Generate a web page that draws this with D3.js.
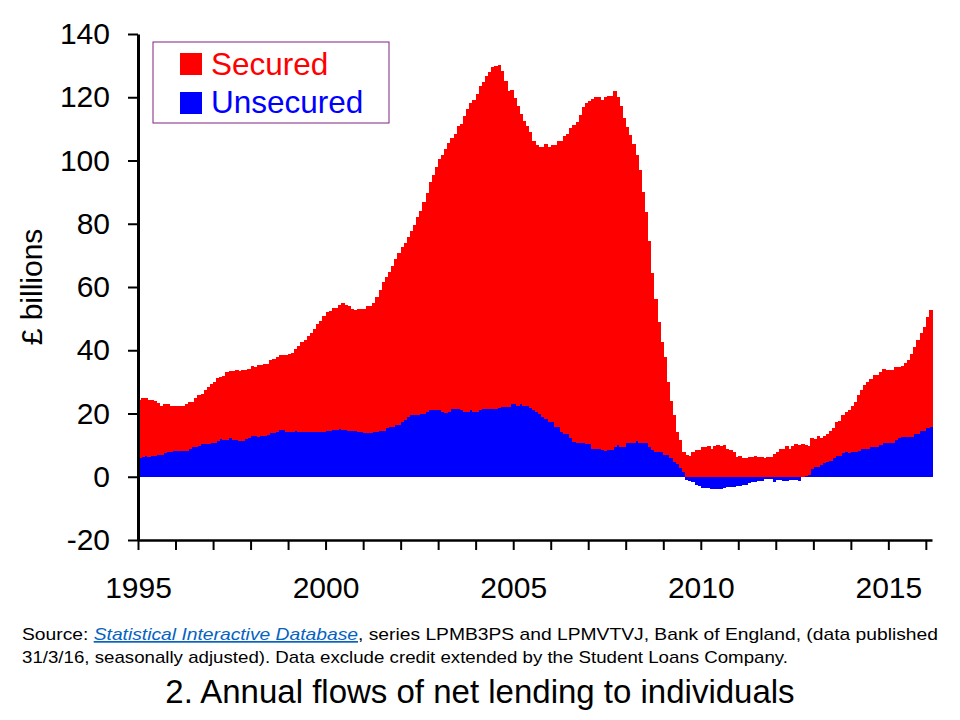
<!DOCTYPE html>
<html>
<head>
<meta charset="utf-8">
<script src="https://cdn.jsdelivr.net/npm/d3@7"></script>
<style>
    body { margin: 0; background: #fff; }
    svg { display: block; font-family: Arial, "Liberation Sans", sans-serif; }
</style>
</head>
<body>
<svg id="chart" width="960" height="720"></svg>
<script>

// Months covered by the series (Jan 1995 .. Feb 2016)
const firstMonth = new Date(1995, 0, 1);
const endMonth = new Date(2016, 2, 1);

// Unsecured lending, £ billions (one row per year)
const unsecured = [
    5.9, 6.3, 6.6, 6.3, 6.7, 6.7, 6.9, 6.9, 7.6, 7.8, 7.8, 8.0,
    8.0, 8.0, 8.0, 8.0, 8.7, 9.4, 9.4, 9.8, 10.2, 10.5, 10.5, 10.7,
    10.7, 11.2, 11.9, 11.7, 11.7, 12.2, 11.6, 11.6, 11.3, 11.3, 11.8, 12.2,
    12.9, 12.9, 12.6, 12.9, 12.9, 13.1, 13.7, 13.7, 14.3, 14.8, 14.8, 14.3,
    14.3, 14.3, 14.5, 14.3, 14.3, 14.3, 14.3, 14.3, 14.3, 14.3, 14.3, 14.3,
    14.5, 14.5, 14.8, 14.8, 15.2, 14.8, 14.8, 14.6, 14.4, 14.5, 14.2, 14.2,
    13.9, 13.9, 13.7, 14.2, 14.2, 14.5, 14.5, 15.4, 15.8, 15.8, 16.4, 16.4,
    17.3, 18.1, 18.8, 19.4, 19.6, 19.4, 19.7, 19.7, 20.5, 21.2, 21.1, 21.1,
    21.1, 20.6, 20.3, 20.6, 21.3, 21.3, 21.3, 21.1, 20.4, 20.4, 21.1, 20.5,
    20.5, 21.1, 21.3, 21.3, 21.4, 21.4, 21.4, 21.7, 22.1, 22.0, 22.0, 23.0,
    23.0, 22.5, 23.1, 22.4, 22.4, 21.7, 21.1, 20.5, 19.7, 19.0, 18.3, 17.4,
    17.4, 15.8, 15.8, 14.2, 13.5, 13.5, 12.3, 11.1, 10.8, 10.6, 10.8, 10.4,
    10.4, 8.8, 8.8, 8.8, 8.5, 8.1, 8.5, 8.5, 9.3, 10.1, 9.5, 9.5,
    10.6, 10.6, 10.6, 11.3, 10.8, 10.6, 10.6, 9.5, 8.5, 7.9, 7.7, 7.7,
    6.9, 6.9, 5.8, 4.7, 4.0, 2.8, 1.5, -1.0, -1.2, -1.8, -2.6, -2.9,
    -3.5, -3.7, -3.7, -4.0, -4.0, -4.0, -3.8, -3.7, -3.3, -3.3, -3.1, -3.0,
    -2.9, -2.6, -2.6, -1.9, -1.8, -1.6, -1.2, -1.2, -0.8, -0.6, -0.6, -1.6,
    -1.0, -1.1, -1.2, -1.5, -1.0, -1.0, -1.0, -1.2, -0.1, 0.1, 0.4, 2.3,
    3.2, 3.2, 3.7, 4.4, 4.8, 5.0, 6.0, 6.7, 6.7, 7.6, 7.9, 7.6,
    7.9, 7.9, 8.2, 8.7, 8.7, 8.7, 9.5, 9.5, 9.5, 10.1, 10.6, 10.6,
    10.6, 10.8, 11.6, 12.1, 12.5, 12.5, 12.7, 12.7, 13.5, 13.5, 14.4, 14.4,
    15.5, 15.8
];

// Secured lending, £ billions (one row per year)
const secured = [
    18.4, 18.6, 18.3, 18.0, 17.6, 17.3, 16.3, 15.5, 15.4, 15.2, 14.6, 14.4,
    14.4, 14.4, 14.4, 14.9, 14.9, 14.2, 15.5, 16.0, 16.0, 16.9, 17.8, 18.6,
    19.2, 20.0, 19.5, 20.2, 21.4, 21.3, 21.9, 22.2, 22.2, 22.5, 22.0, 22.0,
    22.1, 21.9, 22.6, 22.5, 22.8, 22.6, 23.2, 23.6, 23.7, 23.6, 23.6, 24.1,
    24.5, 24.9, 26.0, 27.2, 28.3, 28.9, 30.2, 31.3, 32.5, 34.0, 34.8, 36.5,
    37.6, 37.8, 38.6, 38.6, 39.0, 40.0, 39.6, 39.4, 38.7, 38.2, 38.7, 38.7,
    39.0, 40.1, 40.3, 40.6, 42.7, 44.5, 47.0, 47.8, 49.0, 50.9, 52.4, 54.2,
    55.4, 55.7, 57.1, 58.3, 60.0, 62.6, 64.2, 67.2, 69.1, 71.9, 74.2, 76.7,
    79.3, 81.0, 83.2, 84.8, 85.8, 87.1, 89.5, 90.4, 93.7, 95.8, 97.2, 98.6,
    100.5, 102.3, 103.5, 105.4, 106.6, 108.1, 108.5, 108.5, 106.3, 103.0, 100.1, 99.3,
    96.7, 94.7, 91.6, 90.2, 88.5, 87.3, 85.2, 84.4, 84.7, 85.4, 86.9, 87.0,
    87.5, 89.1, 90.5, 92.1, 94.2, 94.9, 98.0, 100.1, 101.4, 103.8, 106.0, 107.7,
    108.4, 110.8, 111.2, 111.2, 110.6, 111.9, 111.9, 111.9, 112.8, 110.1, 107.7, 103.9,
    99.9, 97.6, 94.6, 90.4, 86.2, 79.5, 73.2, 65.0, 55.8, 48.2, 41.3, 34.9,
    31.1, 23.2, 18.2, 14.7, 10.2, 8.9, 6.2, 6.9, 6.6, 7.7, 8.5, 8.5,
    9.4, 9.4, 9.8, 8.8, 9.6, 9.9, 9.6, 10.1, 8.8, 8.5, 7.7, 6.3,
    6.6, 6.0, 6.0, 6.3, 6.3, 6.6, 6.1, 6.3, 5.8, 6.3, 6.3, 7.1,
    7.7, 8.7, 8.7, 9.6, 8.8, 9.8, 10.4, 10.1, 10.4, 10.0, 9.4, 10.1,
    8.6, 9.7, 8.7, 8.6, 8.7, 9.5, 9.4, 10.6, 10.8, 11.8, 12.6, 13.5,
    14.5, 15.7, 17.6, 18.7, 20.3, 21.3, 21.3, 22.7, 22.7, 23.0, 23.4, 23.2,
    23.2, 23.0, 23.0, 22.5, 22.5, 23.4, 24.2, 26.1, 27.6, 29.7, 31.1, 33.0,
    35.1, 36.9
];

// Series names and colours, bottom of the stack first
const seriesKeys = ["unsecured", "secured"];
const seriesNames = ["Unsecured", "Secured"];
const seriesColors = ["#0000FF", "#FF0000"];

// Axis ticks
const yTicks = [-20, 0, 20, 40, 60, 80, 100, 120, 140];
const labelledYears = [1995, 2000, 2005, 2010, 2015];

// Texts
const yTitle = "£ billions";
const chartTitle = "2. Annual flows of net lending to individuals";
const sourceLink = "Statistical Interactive Database";


class LendingChart {

    // Constructor
    constructor(svg) {
        this.svg = svg;

        // Plot area
        this.left = 138;
        this.right = 932;
        this.top = 34;
        this.bottom = 540;
    }

    // Renderer
    render() {
        let svg = this.svg;

        // Build one row per month
        let months = d3.timeMonth.range(firstMonth, endMonth);
        let rows = months.map((m, i) => ({ month: m, unsecured: unsecured[i], secured: secured[i] }));

        // Scales
        let x = d3.scaleTime()
            .domain([firstMonth, endMonth])
            .range([this.left, this.right]);

        let y = d3.scaleLinear()
            .domain([-20, 140])
            .range([this.bottom, this.top]);

        // Stack with negatives going below zero
        let stacked = d3.stack()
            .keys(seriesKeys)
            .offset(d3.stackOffsetDiverging)(rows);

        // Bars, one group per series
        svg.append("g")
            .selectAll("g")
            .data(stacked)
            .join("g")
            .attr("fill", (d, i) => seriesColors[i])
            .selectAll("rect")
            .data(d => d)
            .join("rect")
            .attr("x", d => x(d.data.month))
            .attr("width", d => x(d3.timeMonth.offset(d.data.month, 1)) - x(d.data.month) + 0.6)
            .attr("y", d => y(Math.max(d[0], d[1])))
            .attr("height", d => Math.abs(y(d[0]) - y(d[1])))
            .attr("shape-rendering", "crispEdges");

        // Y axis (plain hyphen for negatives, as in the original)
        svg.append("g")
            .attr("transform", "translate(" + this.left + ",0)")
            .call(d3.axisLeft(y)
                .tickValues(yTicks)
                .tickSize(10)
                .tickSizeOuter(0)
                .tickPadding(18)
                .tickFormat(d => String(d)))
            .call(g => g.select(".domain").attr("stroke-width", 3))
            .call(g => g.selectAll(".tick line").attr("stroke-width", 2))
            .call(g => g.selectAll("text")
                .attr("font-size", 30)
                .attr("font-family", "Arial, 'Liberation Sans', sans-serif")
                .attr("fill", "#000"));

        // X axis with a tick every year
        svg.append("g")
            .attr("transform", "translate(0," + this.bottom + ")")
            .call(d3.axisBottom(x)
                .ticks(d3.timeYear.every(1))
                .tickSize(10)
                .tickSizeOuter(0)
                .tickPadding(27)
                .tickFormat(d => labelledYears.includes(d.getFullYear()) ? d.getFullYear() : ""))
            .call(g => g.select(".domain").attr("stroke-width", 2.5))
            .call(g => g.selectAll(".tick line").attr("stroke-width", 2))
            .call(g => g.selectAll("text")
                .attr("font-size", 30)
                .attr("font-family", "Arial, 'Liberation Sans', sans-serif")
                .attr("fill", "#000"));

        // Y axis title
        svg.append("text")
            .attr("transform", "translate(42," + ((this.top + this.bottom) / 2) + ") rotate(-90)")
            .attr("text-anchor", "middle")
            .attr("font-size", 30)
            .text(yTitle);

        // Legend box
        let legend = svg.append("g");
        legend.append("rect")
            .attr("x", 153)
            .attr("y", 42)
            .attr("width", 236)
            .attr("height", 81)
            .attr("fill", "white")
            .attr("stroke", "#802080")
            .attr("stroke-width", 1);

        // Secured first, then Unsecured
        [1, 0].forEach((k, row) => {
            legend.append("rect")
                .attr("x", 180)
                .attr("y", 53 + row * 39)
                .attr("width", 22)
                .attr("height", 22)
                .attr("fill", seriesColors[k]);
            legend.append("text")
                .attr("x", 211)
                .attr("y", 75 + row * 38)
                .attr("font-size", 31.5)
                .attr("fill", seriesColors[k])
                .text(seriesNames[k]);
        });

        // Source note, two lines
        let src1 = svg.append("text")
            .attr("x", 22)
            .attr("y", 640)
            .attr("font-size", 17)
            .attr("textLength", 916)
            .attr("lengthAdjust", "spacingAndGlyphs");
        src1.append("tspan").text("Source: ");
        src1.append("tspan")
            .attr("fill", "#0563C1")
            .attr("font-style", "italic")
            .attr("text-decoration", "underline")
            .text(sourceLink);
        src1.append("tspan").text(", series LPMB3PS and LPMVTVJ, Bank of England, (data published");

        svg.append("text")
            .attr("x", 22)
            .attr("y", 663)
            .attr("font-size", 17)
            .attr("textLength", 766)
            .attr("lengthAdjust", "spacingAndGlyphs")
            .text("31/3/16, seasonally adjusted). Data exclude credit extended by the Student Loans Company.");

        // Chart title
        svg.append("text")
            .attr("x", 480)
            .attr("y", 703)
            .attr("text-anchor", "middle")
            .attr("font-size", 33)
            .text(chartTitle);
    }
}

new LendingChart(d3.select("#chart")).render();

</script>
</body>
</html>
